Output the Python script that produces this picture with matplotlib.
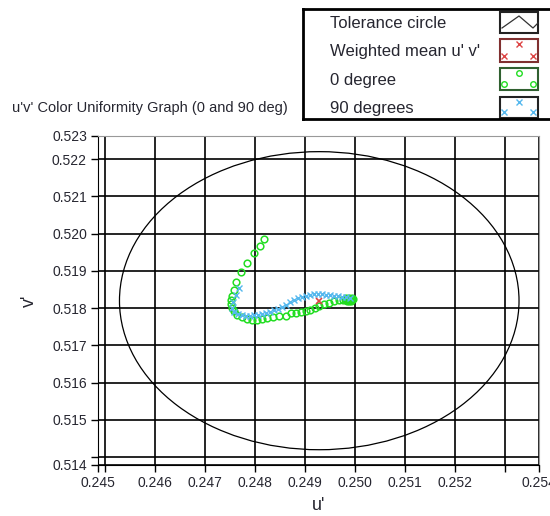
import numpy as np
import matplotlib
matplotlib.use("Agg")
import matplotlib.pyplot as plt
from matplotlib.patches import Circle, Rectangle

plt.rcParams['font.family'] = ['Liberation Sans', 'DejaVu Sans']

# tolerance circle / weighted mean
mean_u = 0.24929
mean_v = 0.51820
radius = 0.004

# 0 degree measurements (green circles)
u0 = [0.24819, 0.24810, 0.24799, 0.24785, 0.24773, 0.24763, 0.24758, 0.24754,
      0.24752, 0.24752, 0.24755, 0.24758, 0.24765, 0.24775, 0.24785, 0.24795,
      0.24805, 0.24815, 0.24825, 0.24836, 0.24849, 0.24862, 0.24872, 0.24882,
      0.24892, 0.24903, 0.24911, 0.24921, 0.24929, 0.24939, 0.24949, 0.24959,
      0.24969, 0.24977, 0.24981, 0.24983, 0.24985, 0.24987, 0.24989, 0.24991,
      0.24993, 0.24995, 0.24997, 0.24993, 0.24989, 0.24985]
v0 = [0.51985, 0.51968, 0.51948, 0.51922, 0.51898, 0.51871, 0.51849, 0.51833,
      0.51822, 0.51812, 0.51800, 0.51791, 0.51782, 0.51776, 0.51771, 0.51769,
      0.51769, 0.51771, 0.51773, 0.51776, 0.51778, 0.51779, 0.51787, 0.51787,
      0.51789, 0.51792, 0.51796, 0.51800, 0.51806, 0.51812, 0.51815, 0.51819,
      0.51822, 0.51822, 0.51825, 0.51828, 0.51822, 0.51825, 0.51828, 0.51822,
      0.51825, 0.51828, 0.51825, 0.51820, 0.51820, 0.51820]

# 90 degree measurements (blue crosses)
u90 = [0.24768, 0.24762, 0.24756, 0.24754, 0.24758, 0.24766, 0.24774, 0.24782,
       0.24790, 0.24798, 0.24806, 0.24814, 0.24822, 0.24830, 0.24838, 0.24846,
       0.24854, 0.24862, 0.24870, 0.24878, 0.24886, 0.24894, 0.24902, 0.24910,
       0.24918, 0.24926, 0.24935, 0.24943, 0.24951, 0.24959, 0.24967, 0.24975,
       0.24983, 0.24991]
v90 = [0.51855, 0.51836, 0.51817, 0.51801, 0.51790, 0.51785, 0.51782, 0.51779,
       0.51779, 0.51781, 0.51782, 0.51783, 0.51786, 0.51790, 0.51794, 0.51798,
       0.51804, 0.51809, 0.51817, 0.51822, 0.51826, 0.51830, 0.51833, 0.51836,
       0.51837, 0.51838, 0.51837, 0.51836, 0.51834, 0.51833, 0.51832, 0.51830,
       0.51829, 0.51828]

# axis range and ticks
u_min, u_max = 0.24486, 0.25369
v_min, v_max = 0.51379, 0.52262
xticks = [u_min, 0.245, 0.246, 0.247, 0.248, 0.249, 0.250, 0.251, 0.252, 0.253, u_max]
xlabels = ['0.245', '', '0.246', '0.247', '0.248', '0.249', '0.250', '0.251', '0.252', '', '0.254']
yticks = [v_min, 0.514, 0.515, 0.516, 0.517, 0.518, 0.519, 0.520, 0.521, 0.522, v_max]
ylabels = ['0.514', '', '0.515', '0.516', '0.517', '0.518', '0.519', '0.520', '0.521', '0.522', '0.523']

legend_labels = ['Tolerance circle', "Weighted mean u' v'", '0 degree', '90 degrees']

green = '#22dd22'
blue = '#55b8ee'
red = '#dd4444'
txt = '#262630'

fig = plt.figure(figsize=(5.5, 5.16), dpi=100)
ax = fig.add_axes([98 / 550, 1 - 465 / 516, 441 / 550, 329 / 516])

ax.add_patch(Circle((mean_u, mean_v), radius, fill=False, ec='black', lw=0.9))
ax.plot(u0, v0, 'o', mfc='none', mec=green, ms=4.8, mew=1.1, ls='none')
ax.plot(u90, v90, 'x', color=blue, ms=3.8, mew=1.0, ls='none')
ax.plot([mean_u], [mean_v], 'x', color=red, ms=5, mew=1.2)

ax.set_xlim(u_min, u_max)
ax.set_ylim(v_min, v_max)
ax.set_xticks(xticks)
ax.set_xticklabels(xlabels)
ax.set_yticks(yticks)
ax.set_yticklabels(ylabels)
ax.grid(True, color='black', lw=1.2)
ax.set_axisbelow(True)
ax.tick_params(direction='out', length=5, width=1, pad=3, labelsize=10, labelcolor=txt)
for side in ['top', 'right']:
    ax.spines[side].set_color('#999999')
for side in ['left', 'bottom']:
    ax.spines[side].set_color('black')

ax.set_xlabel("u'", fontsize=13, color=txt, labelpad=5)
ax.set_ylabel("v'", fontsize=13, color=txt, labelpad=10)

fig.text(12 / 550, 1 - 108 / 516, "u'v' Color Uniformity Graph (0 and 90 deg)",
         fontsize=10.5, color=txt, va='center', ha='left')

# legend panel (drawn by hand, symbols on the right in boxes)
lax = fig.add_axes([303 / 550, 1 - 119 / 516, 260 / 550, 110 / 516])
lax.set_xlim(0, 260)
lax.set_ylim(110, 0)
lax.set_xticks([])
lax.set_yticks([])
for s in lax.spines.values():
    s.set_linewidth(2)
    s.set_color('black')

row_tops = [3, 30, 59, 88]
row_h = [21, 23, 22, 21]
box_cols = ['#222222', '#803030', '#306030', '#222222']
bx, bw = 197, 38
for i, lab in enumerate(legend_labels):
    y0, h = row_tops[i], row_h[i]
    lax.text(27, y0 + h / 2 + 1, lab, fontsize=12, color=txt, va='center', ha='left')
    lax.add_patch(Rectangle((bx, y0), bw, h, fill=False, ec=box_cols[i], lw=1.5))
    mx = [bx + 19, bx + 4, bx + bw - 5]
    my = [y0 + 5, y0 + h - 6, y0 + h - 6]
    if i == 0:
        lax.plot([bx + 2, bx + 19, bx + 33, bx + bw], [y0 + h - 5, y0 + 4, y0 + h - 5, y0 + h - 10],
                 color='#333333', lw=0.9)
    elif i == 1:
        lax.plot(mx, my, 'x', color=red, ms=4, mew=1)
    elif i == 2:
        lax.plot(mx, my, 'o', mfc='none', mec=green, ms=4, mew=1)
    else:
        lax.plot(mx, my, 'x', color=blue, ms=4, mew=1)

fig.savefig('out.png', dpi=100)
